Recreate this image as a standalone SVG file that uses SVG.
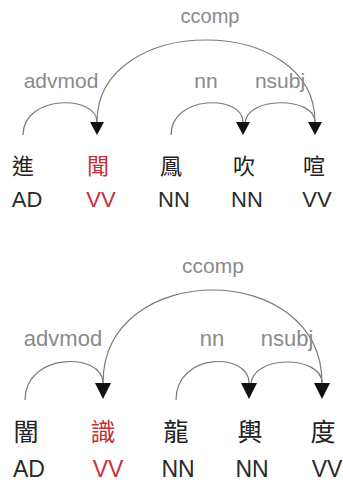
<svg xmlns="http://www.w3.org/2000/svg" width="343" height="482" viewBox="0 0 343 482">
<style>
.arc{fill:none;stroke:#7a7a7a;stroke-width:1.2}
.lbl{font-family:"Liberation Sans",Arial,sans-serif;fill:#8a8a8a;text-anchor:middle}
.w{font-family:"Noto Sans CJK TC","Noto Sans CJK SC",sans-serif;fill:#222;text-anchor:middle}
.pos{font-family:"Liberation Sans",Arial,sans-serif;fill:#2a2a2a;text-anchor:middle}
.hd{fill:#c3303a}
.ah{fill:#111}
</style>
<rect width="343" height="482" fill="#fff"/>
<g id="connectors-top">
<path class="arc" d="M97 122 C97 12.7,315 12.7,315 122"/>
<path class="arc" d="M23 135 C23 94.5,97 94.5,97 122"/>
<path class="arc" d="M171 135 C171 94.5,243 94.5,243 122"/>
<path class="arc" d="M245 124 C245 96,315 96,315 122"/>
<polygon class="ah" points="90,122 104,122 97,135"/>
<polygon class="ah" points="236,122 250,122 243,135"/>
<polygon class="ah" points="308,122 322,122 315,135"/>
<text class="lbl" x="210" y="23" font-size="20">ccomp</text>
<text class="lbl" x="61" y="88" font-size="21">advmod</text>
<text class="lbl" x="206" y="88" font-size="21">nn</text>
<text class="lbl" x="280" y="88" font-size="21">nsubj</text>
</g>
<g id="t1"><text class="w" x="23" y="174" font-size="22">進</text><text class="pos" x="27" y="207" font-size="22">AD</text></g>
<g id="t2"><text class="w hd" x="98" y="174" font-size="22">聞</text><text class="pos hd" x="101" y="207" font-size="22">VV</text></g>
<g id="t3"><text class="w" x="171" y="174" font-size="22">鳳</text><text class="pos" x="174" y="207" font-size="22">NN</text></g>
<g id="t4"><text class="w" x="244" y="174" font-size="22">吹</text><text class="pos" x="247" y="207" font-size="22">NN</text></g>
<g id="t5"><text class="w" x="314" y="174" font-size="22">喧</text><text class="pos" x="317" y="207" font-size="22">VV</text></g>
<g id="connectors-bottom">
<path class="arc" d="M103 383 C103 259,322 259,322 383"/>
<path class="arc" d="M25 400 C25 352,103 352,103 383"/>
<path class="arc" d="M176 400 C176 352,249 352,249 383"/>
<path class="arc" d="M251 385 C251 354.7,322 354.7,322 383"/>
<polygon class="ah" points="95,383 111,383 103,399"/>
<polygon class="ah" points="241,383 257,383 249,399"/>
<polygon class="ah" points="314,383 330,383 322,399"/>
<text class="lbl" x="213" y="273" font-size="21">ccomp</text>
<text class="lbl" x="63" y="346" font-size="22">advmod</text>
<text class="lbl" x="212" y="346" font-size="22">nn</text>
<text class="lbl" x="287" y="346" font-size="22">nsubj</text>
</g>
<g id="b1"><text class="w" x="26" y="441" font-size="25">闇</text><text class="pos" x="29" y="477" font-size="23">AD</text></g>
<g id="b2"><text class="w hd" x="103" y="441" font-size="25">識</text><text class="pos hd" x="108" y="477" font-size="23">VV</text></g>
<g id="b3"><text class="w" x="176" y="441" font-size="25">龍</text><text class="pos" x="178" y="477" font-size="23">NN</text></g>
<g id="b4"><text class="w" x="250" y="441" font-size="25">輿</text><text class="pos" x="252" y="477" font-size="23">NN</text></g>
<g id="b5"><text class="w" x="323" y="441" font-size="25">度</text><text class="pos" x="327" y="477" font-size="23">VV</text></g>
</svg>
